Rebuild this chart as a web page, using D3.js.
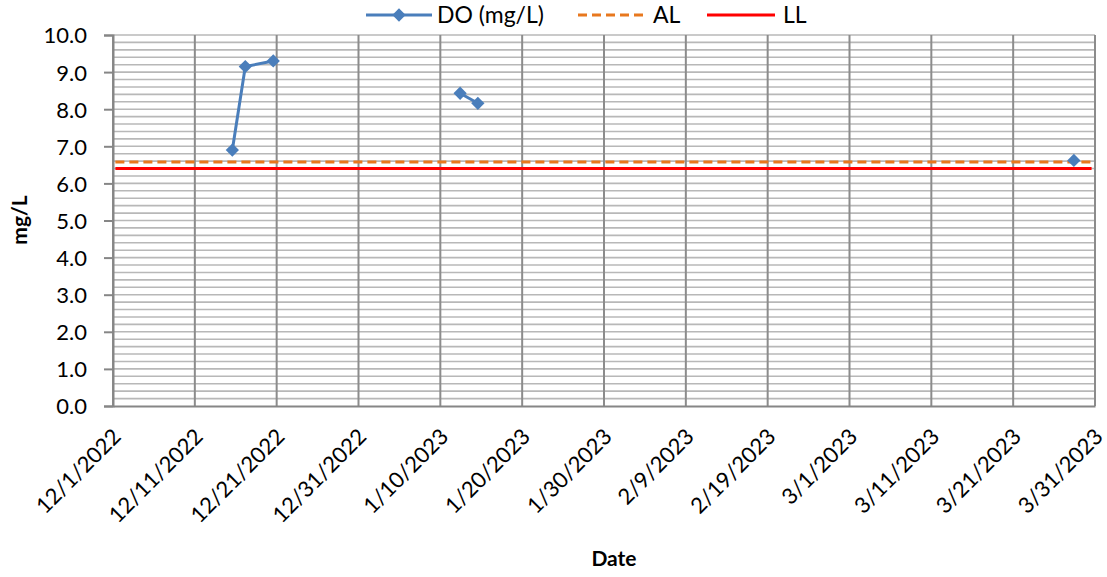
<!DOCTYPE html>
<html>
<head>
<meta charset="utf-8">
<script src="https://cdn.jsdelivr.net/npm/d3@7"></script>
<style>
  html, body { margin: 0; padding: 0; background: #fff; }
  text { font-family: Lato, "Open Sans", sans-serif; fill: #000; }
</style>
</head>
<body>
<svg id="chart" width="1107" height="577"></svg>
<script>
// DO readings (null = empty cell, breaks the line)
const doDates = ['2022-12-15T14:00', '2022-12-17T04:00', '2022-12-20T14:00', '2022-12-31T00:00',
  '2023-01-12T10:00', '2023-01-14T14:00', '2023-02-15T00:00', '2023-03-28T10:00']
const doValues = [6.9, 9.15, 9.3, null, 8.43, 8.16, null, 6.62]

// action level / lower limit
const limitDates = ['2022-12-01T07:00', '2023-03-30T14:00']
const alValues = [6.58, 6.58]
const llValues = [6.4, 6.4]

const xTickLabels = ['12/1/2022', '12/11/2022', '12/21/2022', '12/31/2022', '1/10/2023', '1/20/2023',
  '1/30/2023', '2/9/2023', '2/19/2023', '3/1/2023', '3/11/2023', '3/21/2023', '3/31/2023']
const yTicks = [0, 1, 2, 3, 4, 5, 6, 7, 8, 9, 10]

const parseTime = d3.timeParse('%Y-%m-%dT%H:%M')
const parseDay = d3.timeParse('%m/%d/%Y')

const margins = { left: 113, right: 12, top: 35, bottom: 171 }
const width = 1107 - margins.left - margins.right
const height = 577 - margins.top - margins.bottom

const svg = d3.select('#chart')
const g = svg.append('g').attr('transform', `translate(${margins.left}, ${margins.top})`)

const tickDates = xTickLabels.map(parseDay)
const x = d3.scaleTime()
  .domain([tickDates[0], tickDates[tickDates.length - 1]])
  .range([0, width])
const y = d3.scaleLinear().domain([0, 10]).range([height, 0])

// minor horizontal gridlines every 0.2
const hGrid = d3.range(1, 51).map(i => i * 0.2)
g.append('g').selectAll('line')
  .data(hGrid)
  .enter().append('line')
  .attr('x1', 0).attr('x2', width)
  .attr('y1', d => y(d)).attr('y2', d => y(d))
  .attr('stroke', '#b8b8b8')
  .attr('stroke-width', 1.6)

// vertical gridlines at the date ticks
g.append('g').selectAll('line')
  .data(tickDates)
  .enter().append('line')
  .attr('x1', d => x(d)).attr('x2', d => x(d))
  .attr('y1', 0).attr('y2', height)
  .attr('stroke', '#8c8c8c')
  .attr('stroke-width', 2)

// y axis
const yAxis = g.append('g')
  .call(d3.axisLeft(y).tickValues(yTicks).tickFormat(d3.format('.1f')).tickSize(9).tickPadding(17))
yAxis.select('.domain').attr('stroke', '#868686').attr('stroke-width', 2)
yAxis.selectAll('.tick line').attr('stroke', '#868686').attr('stroke-width', 2)
yAxis.selectAll('.tick text').style('font-size', '22px').attr('dy', '0.36em')

// x axis
const xAxis = g.append('g')
  .attr('transform', `translate(0, ${height})`)
  .call(d3.axisBottom(x).tickValues(tickDates).tickFormat((d, i) => xTickLabels[i]).tickSize(0))
xAxis.select('.domain').attr('stroke', '#868686').attr('stroke-width', 2)
xAxis.selectAll('.tick text')
  .style('font-size', '22px')
  .attr('text-anchor', 'end')
  .attr('transform', 'translate(-2, 21) rotate(-45)')
  .attr('dy', '0.7em')
  .attr('y', 0)

// limit lines
const limitLine = d3.line()
  .x((d, i) => x(parseTime(limitDates[i])))
  .y(d => y(d))

g.append('path')
  .attr('d', limitLine(llValues))
  .attr('fill', 'none')
  .attr('stroke', '#ff0000')
  .attr('stroke-width', 3)

g.append('path')
  .attr('d', limitLine(alValues))
  .attr('fill', 'none')
  .attr('stroke', '#e8781e')
  .attr('stroke-width', 3)
  .attr('stroke-dasharray', '9,5')

// DO series
const doPoints = doDates.map((d, i) => ({ date: parseTime(d), value: doValues[i] }))
const doLine = d3.line()
  .defined(d => d.value !== null)
  .x(d => x(d.date))
  .y(d => y(d.value))

g.append('path')
  .attr('d', doLine(doPoints))
  .attr('fill', 'none')
  .attr('stroke', '#4a7ebb')
  .attr('stroke-width', 3)

const diamond = d3.symbol(d3.symbolSquare, 88)
g.append('g').selectAll('path')
  .data(doPoints.filter(d => d.value !== null))
  .enter().append('path')
  .attr('d', diamond)
  .attr('transform', d => `translate(${x(d.date)}, ${y(d.value)}) rotate(45)`)
  .attr('fill', '#4a7ebb')

// axis titles
svg.append('text')
  .attr('x', 614).attr('y', 566)
  .attr('text-anchor', 'middle')
  .style('font-size', '21px').style('font-weight', 'bold')
  .text('Date')

svg.append('text')
  .attr('transform', 'translate(27, 220) rotate(-90)')
  .attr('text-anchor', 'middle')
  .style('font-size', '21px').style('font-weight', 'bold')
  .text('mg/L')

// legend
const legend = svg.append('g').attr('transform', 'translate(0, 15)')
legend.append('line')
  .attr('x1', 366).attr('x2', 432).attr('y1', 0).attr('y2', 0)
  .attr('stroke', '#4a7ebb').attr('stroke-width', 3)
legend.append('path')
  .attr('d', diamond)
  .attr('transform', 'translate(399, 0) rotate(45)')
  .attr('fill', '#4a7ebb')
legend.append('text').attr('x', 437).attr('y', 0).attr('dy', '0.36em')
  .style('font-size', '23px').text('DO (mg/L)')

legend.append('line')
  .attr('x1', 578).attr('x2', 645).attr('y1', 0).attr('y2', 0)
  .attr('stroke', '#e8781e').attr('stroke-width', 3).attr('stroke-dasharray', '9,5')
legend.append('text').attr('x', 653).attr('y', 0).attr('dy', '0.36em')
  .style('font-size', '23px').text('AL')

legend.append('line')
  .attr('x1', 707).attr('x2', 775).attr('y1', 0).attr('y2', 0)
  .attr('stroke', '#ff0000').attr('stroke-width', 3)
legend.append('text').attr('x', 783).attr('y', 0).attr('dy', '0.36em')
  .style('font-size', '23px').text('LL')
</script>
</body>
</html>
